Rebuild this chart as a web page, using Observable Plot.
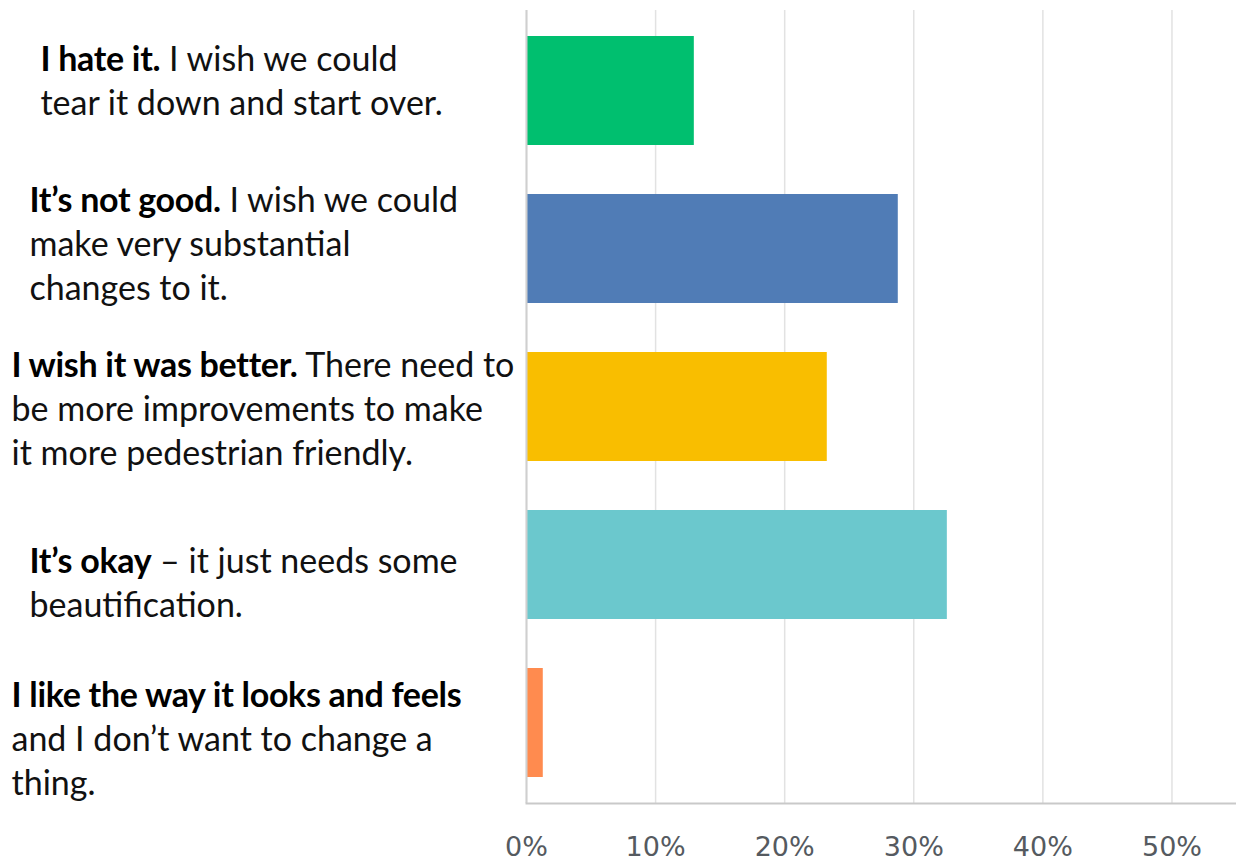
<!DOCTYPE html>
<html><head><meta charset="utf-8">
<script src="https://cdn.jsdelivr.net/npm/d3@7"></script>
<script src="https://cdn.jsdelivr.net/npm/@observablehq/plot@0.6"></script>
<style>
html,body{margin:0;padding:0;background:#fff}
#chart svg{display:block}
</style></head><body><div id="chart"></div>
<script>
// ---- data ----
const categories = ["I hate it", "It's not good", "I wish it was better", "It's okay", "I like the way it looks"];
const values = [13.0, 28.8, 23.3, 32.6, 1.3];
const colors = ["#00BF6F", "#507CB6", "#F9BE00", "#6BC8CD", "#FF8B4F"];
const boldParts = ["I hate it.", "It’s not good.", "I wish it was better.", "It’s okay", "I like the way it looks and feels"];
const labelLines = [
  ["I hate it. I wish we could", "tear it down and start over."],
  ["It’s not good. I wish we could", "make very substantial", "changes to it."],
  ["I wish it was better. There need to", "be more improvements to make", "it more pedestrian friendly."],
  ["It’s okay – it just needs some", "beautification."],
  ["I like the way it looks and feels", "and I don’t want to change a", "thing."]
];
const xTicks = [0, 10, 20, 30, 40, 50];

// ---- layout (not data) ----
const W = 1236, H = 861, ML = 526;
const labelLeft = [40, 29, 11, 29, 11];
const labelFirstDy = [-31, -47.5, -41, -3, -26.5];
const lineGap = 44;
const labelFont = "Lato, 'Open Sans', sans-serif";
const labelSize = 34;

const bars = categories.map((c, i) => ({cat: c, value: values[i]}));

const labelMarks = [];
labelLines.forEach((lines, i) => {
  lines.forEach((line, j) => {
    const key = `label-${i}-${j}`;
    labelMarks.push(Plot.text([categories[i]], {
      y: d => d,
      text: () => line,
      frameAnchor: "left",
      textAnchor: "start",
      lineAnchor: "middle",
      dx: labelLeft[i] - ML,
      dy: labelFirstDy[i] + j * lineGap,
      fontSize: labelSize,
      fontFamily: labelFont,
      fill: "#111",
      ariaLabel: () => key
    }));
  });
});

const chart = Plot.plot({
  width: W,
  height: H,
  marginLeft: ML,
  marginRight: 0,
  marginTop: 10,
  marginBottom: 58,
  style: {background: "#fff", overflow: "visible"},
  x: {domain: [0, 55], axis: null},
  y: {domain: categories, axis: null, paddingInner: 0.31, paddingOuter: 0.155},
  color: {domain: categories, range: colors},
  marks: [
    Plot.gridX(xTicks, {stroke: "#e2e2e2", strokeOpacity: 1, strokeWidth: 1.5}),
    Plot.barX(bars, {x: "value", y: "cat", fill: "cat"}),
    Plot.ruleX([0], {stroke: "#cfcfcf", strokeWidth: 2}),
    Plot.frame({anchor: "bottom", stroke: "#c9c9c9", strokeWidth: 2}),
    Plot.axisX({ticks: xTicks, label: null, tickSize: 0, tickPadding: 33, tickFormat: d => d + "%",
      fontSize: 27, fontFamily: "'DejaVu Sans', sans-serif", fill: "#555a60", letterSpacing: -0.5}),
    ...labelMarks
  ]
});

document.getElementById("chart").appendChild(chart);

// make the lead phrase of each label bold
const ns = "http://www.w3.org/2000/svg";
labelLines.forEach((lines, i) => {
  const t = chart.querySelector(`text[aria-label="label-${i}-0"]`) ||
            chart.querySelector(`g[aria-label="label-${i}-0"] text`);
  if (!t) return;
  const full = lines[0];
  const b = boldParts[i];
  const rest = full.slice(b.length);
  while (t.firstChild) t.removeChild(t.firstChild);
  const tb = document.createElementNS(ns, "tspan");
  tb.setAttribute("font-weight", "bold");
  tb.setAttribute("letter-spacing", "-0.3");
  tb.setAttribute("fill", "#000");
  tb.textContent = b;
  t.appendChild(tb);
  if (rest.length) {
    const tr = document.createElementNS(ns, "tspan");
    tr.textContent = rest;
    t.appendChild(tr);
  }
});
</script>
</body></html>
